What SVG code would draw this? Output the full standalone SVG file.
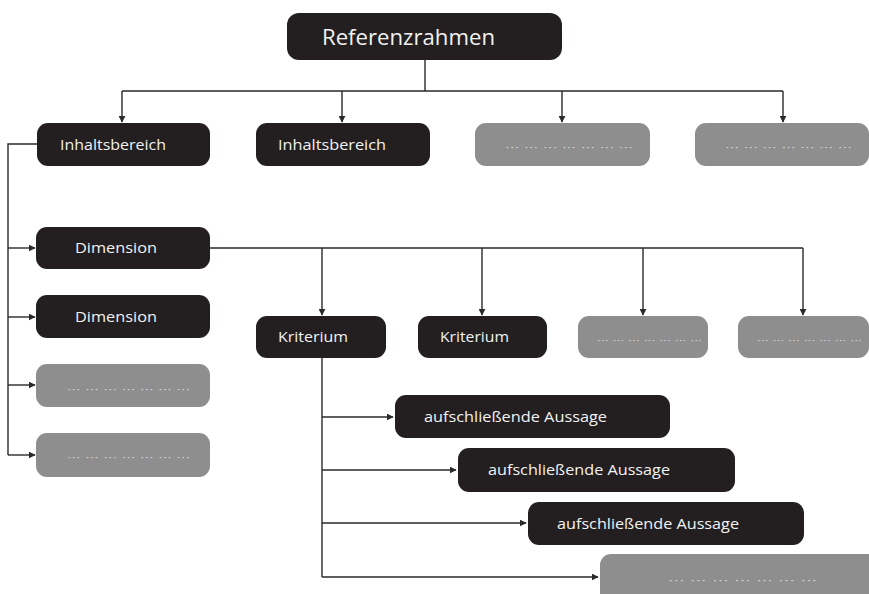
<svg xmlns="http://www.w3.org/2000/svg" width="869" height="594" viewBox="0 0 869 594">
<defs>
<marker id="arr" viewBox="0 0 10 10" refX="9" refY="5" markerWidth="5" markerHeight="5" orient="auto" markerUnits="strokeWidth">
<path d="M0,0 L10,5 L0,10 z" fill="#2a2a2a"/>
</marker>
<style>
.dk{fill:#231f20;}
.gr{fill:#8e8e8e;}
.t{font-family:"Open Sans","Liberation Sans",sans-serif;fill:#f2f2f2;font-size:14px;}
.tb{font-family:"Open Sans","Liberation Sans",sans-serif;fill:#f2f2f2;font-size:22px;}
.ph{font-family:"DejaVu Sans",sans-serif;fill:#d8d8d8;font-size:8px;}
.c{fill:none;stroke:#2a2a2a;stroke-width:1.4;}
.a{marker-end:url(#arr);}
</style>
</defs>
<rect width="869" height="594" fill="#ffffff"/>
<g id="connectors">
<path class="c" d="M425,60 V91 M122,91 H783"/>
<path class="c a" d="M122,91 V122"/>
<path class="c a" d="M342,91 V122"/>
<path class="c a" d="M562,91 V122"/>
<path class="c a" d="M783,91 V122"/>
<path class="c" d="M37,144 H8 V455"/>
<path class="c a" d="M8,248 H35"/>
<path class="c a" d="M8,317 H35"/>
<path class="c a" d="M8,385 H35"/>
<path class="c a" d="M8,455 H35"/>
<path class="c" d="M210,248 H803"/>
<path class="c a" d="M322,248 V315"/>
<path class="c a" d="M482,248 V315"/>
<path class="c a" d="M643,248 V315"/>
<path class="c a" d="M803,248 V315"/>
<path class="c" d="M322,358 V577"/>
<path class="c a" d="M322,417 H393"/>
<path class="c a" d="M322,470 H456"/>
<path class="c a" d="M322,523 H526"/>
<path class="c a" d="M322,577 H598"/>
</g>
<g id="referenzrahmen"><rect class="dk" x="287" y="13" width="275" height="47" rx="12"/><text class="tb" x="322" y="45" textLength="173" lengthAdjust="spacingAndGlyphs">Referenzrahmen</text></g>
<g id="inhalt1"><rect class="dk" x="37" y="123" width="173" height="43" rx="11"/><text class="t" x="60" y="150" textLength="106" lengthAdjust="spacingAndGlyphs">Inhaltsbereich</text></g>
<g id="inhalt2"><rect class="dk" x="256" y="123" width="174" height="43" rx="11"/><text class="t" x="278" y="150" textLength="108" lengthAdjust="spacingAndGlyphs">Inhaltsbereich</text></g>
<g id="inhalt3"><rect class="gr" x="475" y="123" width="175" height="43" rx="11"/><text class="ph" x="505" y="151" textLength="128" lengthAdjust="spacingAndGlyphs">··· ··· ··· ··· ··· ··· ···</text></g>
<g id="inhalt4"><rect class="gr" x="695" y="123" width="174" height="43" rx="11"/><text class="ph" x="725" y="151" textLength="127" lengthAdjust="spacingAndGlyphs">··· ··· ··· ··· ··· ··· ···</text></g>
<g id="dim1"><rect class="dk" x="36" y="227" width="174" height="42" rx="11"/><text class="t" x="75" y="253" textLength="82" lengthAdjust="spacingAndGlyphs">Dimension</text></g>
<g id="dim2"><rect class="dk" x="36" y="295" width="174" height="43" rx="11"/><text class="t" x="75" y="322" textLength="82" lengthAdjust="spacingAndGlyphs">Dimension</text></g>
<g id="dim3"><rect class="gr" x="36" y="364" width="174" height="43" rx="11"/><text class="ph" x="67" y="393" textLength="123" lengthAdjust="spacingAndGlyphs">··· ··· ··· ··· ··· ··· ···</text></g>
<g id="dim4"><rect class="gr" x="36" y="433" width="174" height="44" rx="11"/><text class="ph" x="67" y="461" textLength="123" lengthAdjust="spacingAndGlyphs">··· ··· ··· ··· ··· ··· ···</text></g>
<g id="krit1"><rect class="dk" x="256" y="316" width="130" height="42" rx="11"/><text class="t" x="278" y="342" textLength="70" lengthAdjust="spacingAndGlyphs">Kriterium</text></g>
<g id="krit2"><rect class="dk" x="418" y="316" width="129" height="42" rx="11"/><text class="t" x="440" y="342" textLength="69" lengthAdjust="spacingAndGlyphs">Kriterium</text></g>
<g id="krit3"><rect class="gr" x="578" y="316" width="130" height="42" rx="11"/><text class="ph" x="597" y="344" textLength="105" lengthAdjust="spacingAndGlyphs">··· ··· ··· ··· ··· ··· ···</text></g>
<g id="krit4"><rect class="gr" x="738" y="316" width="131" height="42" rx="11"/><text class="ph" x="757" y="344" textLength="105" lengthAdjust="spacingAndGlyphs">··· ··· ··· ··· ··· ··· ···</text></g>
<g id="aussage1"><rect class="dk" x="395" y="395" width="275" height="43" rx="11"/><text class="t" x="424" y="422" textLength="183" lengthAdjust="spacingAndGlyphs">aufschließende Aussage</text></g>
<g id="aussage2"><rect class="dk" x="458" y="448" width="277" height="44" rx="11"/><text class="t" x="488" y="475" textLength="182" lengthAdjust="spacingAndGlyphs">aufschließende Aussage</text></g>
<g id="aussage3"><rect class="dk" x="528" y="502" width="276" height="43" rx="11"/><text class="t" x="557" y="529" textLength="182" lengthAdjust="spacingAndGlyphs">aufschließende Aussage</text></g>
<g id="aussage4"><rect class="gr" x="600" y="554" width="280" height="50" rx="11"/><text class="ph" x="668" y="584" textLength="149" lengthAdjust="spacingAndGlyphs">··· ··· ··· ··· ··· ··· ···</text></g>
</svg>
